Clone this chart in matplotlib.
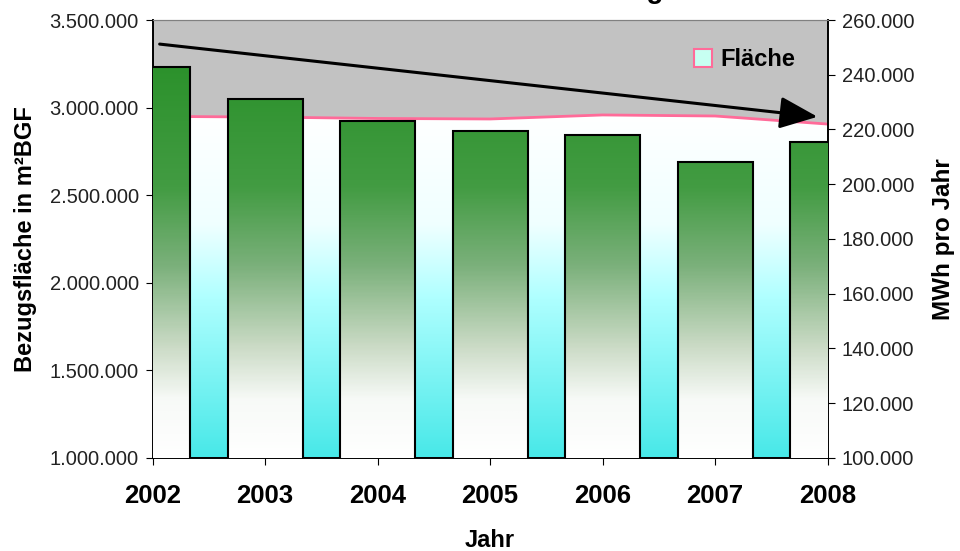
import matplotlib
matplotlib.use("Agg")
import matplotlib.pyplot as plt
import numpy as np
from matplotlib.colors import LinearSegmentedColormap
from matplotlib.patches import Patch
from matplotlib.ticker import FuncFormatter, MultipleLocator

plt.rcParams['font.family'] = ['Liberation Sans', 'DejaVu Sans']

years = ['2002', '2003', '2004', '2005', '2006', '2007', '2008']
flaeche = [2950000, 2946000, 2938000, 2935000, 2958000, 2952000, 2906000]   # m² BGF
verbrauch = [243000, 231000, 223200, 219500, 218000, 208200, 215400]        # MWh pro Jahr

def dotted(v, pos):
    return f"{v:,.0f}".replace(",", ".")

fig = plt.figure(figsize=(9.6, 5.51), dpi=100)
ax = fig.add_axes([0.159, 0.1688, 0.7031, 0.7949])
ax.set_facecolor((0.76, 0.76, 0.76))
x = np.arange(len(years))
xmin, xmax = 0, len(years) - 1

# Fläche als Fläche mit Verlauf weiss -> cyan
area_cmap = LinearSegmentedColormap.from_list("area", [
    (0.0, (0.28, 0.91, 0.91)),
    (0.46, (0.68, 1.0, 1.0)),
    (0.68, (0.94, 1.0, 1.0)),
    (1.0, (1.0, 1.0, 1.0))])
poly = ax.fill_between(x, 1000000, flaeche, facecolor='none', edgecolor='none', zorder=1)
grad = np.linspace(0, 1, 256).reshape(-1, 1)
img = ax.imshow(grad, cmap=area_cmap, origin='lower', aspect='auto',
                extent=(xmin, xmax, 1000000, max(flaeche)), zorder=1)
img.set_clip_path(poly.get_paths()[0], transform=ax.transData)
ax.plot(x, flaeche, color=(1.0, 0.42, 0.6), lw=2, zorder=2)
ax.plot([xmin, xmax], [1000000, 1000000], color=(1.0, 0.42, 0.6), lw=2, zorder=2)

ax.set_xlim(xmin, xmax)
ax.set_ylim(1000000, 3500000)
ax.yaxis.set_major_locator(MultipleLocator(500000))
ax.yaxis.set_major_formatter(FuncFormatter(dotted))
ax.set_xticks(x)
ax.set_xticklabels(years, fontsize=18.5, fontweight='bold')
ax.tick_params(axis='x', length=5, pad=14)
ax.tick_params(axis='y', length=5, pad=5, labelsize=14.5, labelcolor='#222222')
ax.set_ylabel('Bezugsfläche in m²BGF', fontsize=17, fontweight='bold')
ax.yaxis.set_label_coords(-0.172, 0.5)
ax.set_xlabel('Jahr', fontsize=17, fontweight='bold')
ax.xaxis.set_label_coords(0.5, -0.162)

# Verbrauch als Balken auf der rechten Achse
ax2 = ax.twinx()
bar_cmap = LinearSegmentedColormap.from_list("bar", [
    (0.0, (1.0, 1.0, 1.0)),
    (0.13, (0.97, 0.98, 0.97)),
    (0.25, (0.8, 0.86, 0.78)),
    (0.44, (0.48, 0.69, 0.48)),
    (0.62, (0.26, 0.61, 0.26)),
    (0.9, (0.17, 0.57, 0.17)),
    (1.0, (0.16, 0.56, 0.16))])
width = 0.667
bars = ax2.bar(x, verbrauch, width=width, bottom=0, facecolor='none',
               edgecolor='black', lw=1.5, zorder=4)
for xi, v in zip(x, verbrauch):
    left = max(xi - width / 2, xmin)
    right = min(xi + width / 2, xmax)
    vals = np.linspace(100000, v, 256).reshape(-1, 1)
    ax2.imshow(vals, cmap=bar_cmap, vmin=100000, vmax=260000, origin='lower',
               aspect='auto', extent=(left, right, 100000, v), zorder=3)
ax2.set_xlim(xmin, xmax)
ax2.set_ylim(100000, 260000)
ax2.yaxis.set_major_locator(MultipleLocator(20000))
ax2.yaxis.set_major_formatter(FuncFormatter(dotted))
ax2.tick_params(axis='y', length=5, pad=5, labelsize=14.5, labelcolor='#222222')
ax2.set_ylabel('MWh pro Jahr', fontsize=17.5, fontweight='bold')
ax2.yaxis.set_label_coords(1.154, 0.5)

for a in (ax, ax2):
    a.spines['top'].set_color((0.5, 0.5, 0.5))
    for s in ('left', 'right', 'bottom'):
        a.spines[s].set_linewidth(1.2)

# Trendpfeil
ax2.annotate('', xy=(0.985, 0.779), xytext=(0.0104, 0.945),
             xycoords='axes fraction', textcoords='axes fraction',
             arrowprops=dict(arrowstyle='-|>,head_length=1.3,head_width=0.55',
                             lw=2.2, color='black', mutation_scale=18,
                             shrinkA=0, shrinkB=0), zorder=6)

handle = Patch(facecolor=(0.78, 1.0, 0.95), edgecolor=(1.0, 0.42, 0.6), lw=1.5)
ax2.legend([handle], ['Fläche'], loc='center left', bbox_to_anchor=(0.785, 0.909),
           frameon=False, borderpad=0, handlelength=0.75, handleheight=0.75,
           handletextpad=0.35, prop={'size': 17, 'weight': 'bold'})

fig.text(0.53, 1.004, 'Verbrauchsentwicklung', fontsize=20, fontweight='bold',
         ha='center', va='baseline')

fig.savefig('out.png', dpi=100)
